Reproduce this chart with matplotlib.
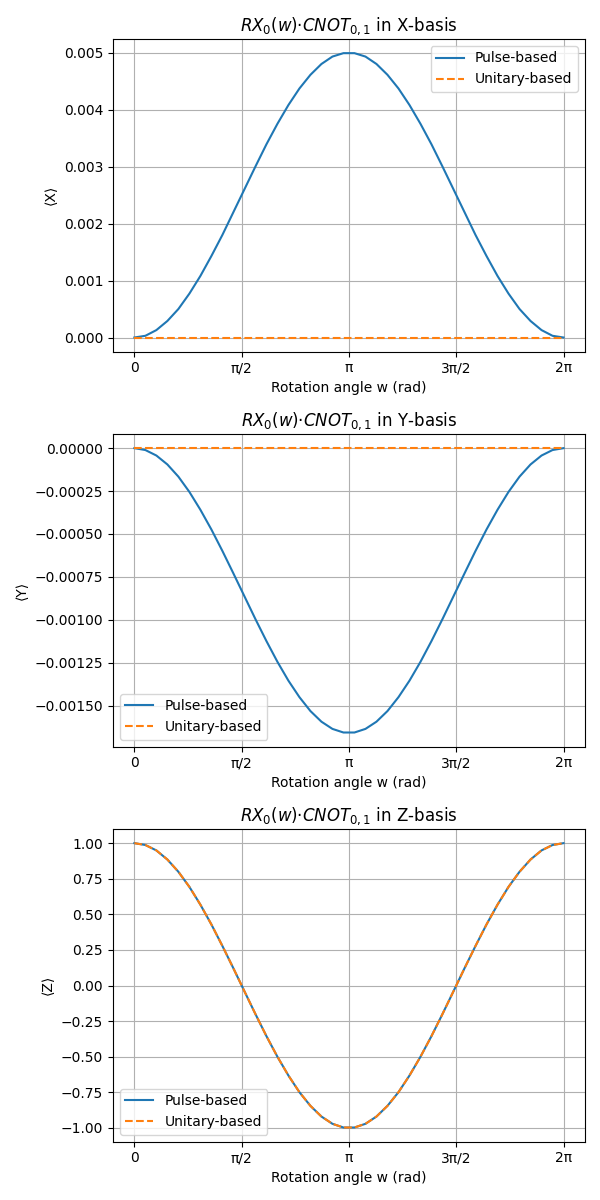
import numpy as np
import matplotlib
matplotlib.use("Agg")
import matplotlib.pyplot as plt

# ── data (40 samples over 0..2π) ─────────────────────────────────────
n_points = 40
w = np.linspace(0, 2 * np.pi, n_points)

x_half = [0.0, 0.00003, 0.00013, 0.00029, 0.00050, 0.00077, 0.00108,
          0.00143, 0.00180, 0.00220, 0.00260, 0.00300, 0.00339, 0.00375,
          0.00408, 0.00437, 0.00461, 0.00480, 0.00493, 0.00499]
x_pulse = x_half + x_half[::-1]
x_unitary = [0.0] * n_points

y_half = [0.0, -0.000011, -0.000043, -0.000095, -0.000166, -0.000255,
          -0.000359, -0.000474, -0.000599, -0.000730, -0.000863, -0.000996,
          -0.001124, -0.001245, -0.001355, -0.001451, -0.001532, -0.001594,
          -0.001636, -0.001657]
y_pulse = y_half + y_half[::-1]
y_unitary = [0.0] * n_points

z_half = [1.0, 0.987, 0.949, 0.885, 0.799, 0.693, 0.568, 0.429, 0.278,
          0.121, -0.040, -0.200, -0.355, -0.500, -0.632, -0.749, -0.845,
          -0.920, -0.971, -0.997]
z_pulse = z_half + z_half[::-1]
z_unitary = z_half + z_half[::-1]

tick_pos = [0, np.pi / 2, np.pi, 3 * np.pi / 2, 2 * np.pi]
tick_labels = ["0", "π/2", "π", "3π/2", "2π"]

panels = [
    ("X", x_pulse, x_unitary, "upper right"),
    ("Y", y_pulse, y_unitary, "lower left"),
    ("Z", z_pulse, z_unitary, "lower left"),
]

fig, axes = plt.subplots(3, 1, figsize=(6, 12))
for ax, (basis, pulse, unitary, loc) in zip(axes, panels):
    ax.plot(w, pulse, label="Pulse-based")
    ax.plot(w, unitary, "--", label="Unitary-based")
    ax.set_title(f"$RX_0(w)·CNOT_{{0,1}}$ in {basis}-basis")
    ax.set_xlabel("Rotation angle w (rad)")
    ax.set_ylabel(f"⟨{basis}⟩")
    ax.set_xticks(tick_pos)
    ax.set_xticklabels(tick_labels)
    ax.grid(True)
    ax.legend(loc=loc)

fig.tight_layout()
fig.savefig("out.png", dpi=100)
